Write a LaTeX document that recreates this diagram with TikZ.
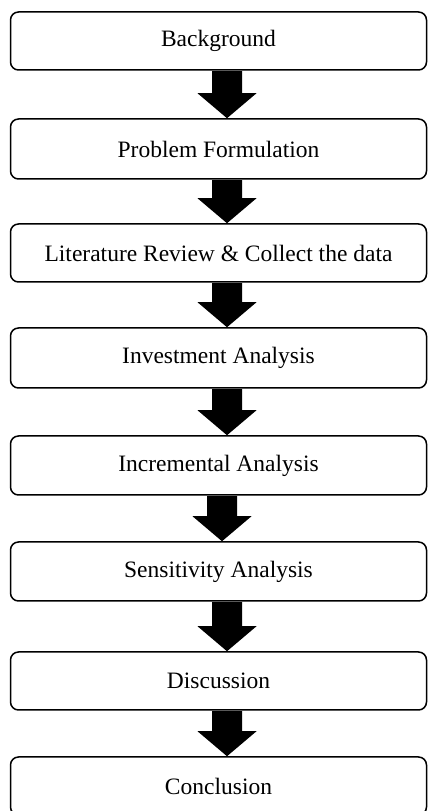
\documentclass[tikz,border=0pt]{standalone}
\usepackage{fontspec}
\setmainfont{Liberation Serif}
\usetikzlibrary{calc}
\tikzset{
  stage/.style={draw, line width=1.5pt, rounded corners=8pt, minimum width=416pt,
    inner sep=0pt, font=\fontsize{23.5}{28}\selectfont},
  flowarrow/.style={fill=black}
}
\newcommand\flowar[3]{%
  \fill[flowarrow] let \p1=(#1.south), \p2=(#2.north) in
    (\x1+#3-15pt,\y1-0.5pt) -- (\x1+#3+15pt,\y1-0.5pt) -- (\x1+#3+15pt,\y2+25pt)
    -- (\x1+#3+29.5pt,\y2+25pt) -- (\x1+#3,\y2) -- (\x1+#3-29.5pt,\y2+25pt)
    -- (\x1+#3-15pt,\y2+25pt) -- cycle;}
\begin{document}
\begin{tikzpicture}[x=1pt,y=1pt]
\useasboundingbox (0,0) rectangle (428,811);
\clip (0,0) rectangle (428,811);
\node[stage, minimum height=58pt] (b1) at (218.5,770) {Background};
\node[stage, minimum height=60pt] (b2) at (218.5,662) {Problem Formulation};
\node[stage, minimum height=58pt] (b3) at (218.5,558) {Literature Review \& Collect the data};
\node[stage, minimum height=60pt] (b4) at (218.5,453) {Investment Analysis};
\node[stage, minimum height=59pt] (b5) at (218.5,345.5) {Incremental Analysis};
\node[stage, minimum height=59pt] (b6) at (218.5,239.5) {Sensitivity Analysis};
\node[stage, minimum height=58pt] (b7) at (218.5,130) {Discussion};
\node[stage, minimum height=58pt] (b8) at (218.5,25) {Conclusion};
\flowar{b1}{b2}{8.5pt}
\flowar{b2}{b3}{8.5pt}
\flowar{b3}{b4}{8.5pt}
\flowar{b4}{b5}{8.5pt}
\flowar{b5}{b6}{3.5pt}
\flowar{b6}{b7}{8.5pt}
\flowar{b7}{b8}{8.5pt}
\end{tikzpicture}
\end{document}
